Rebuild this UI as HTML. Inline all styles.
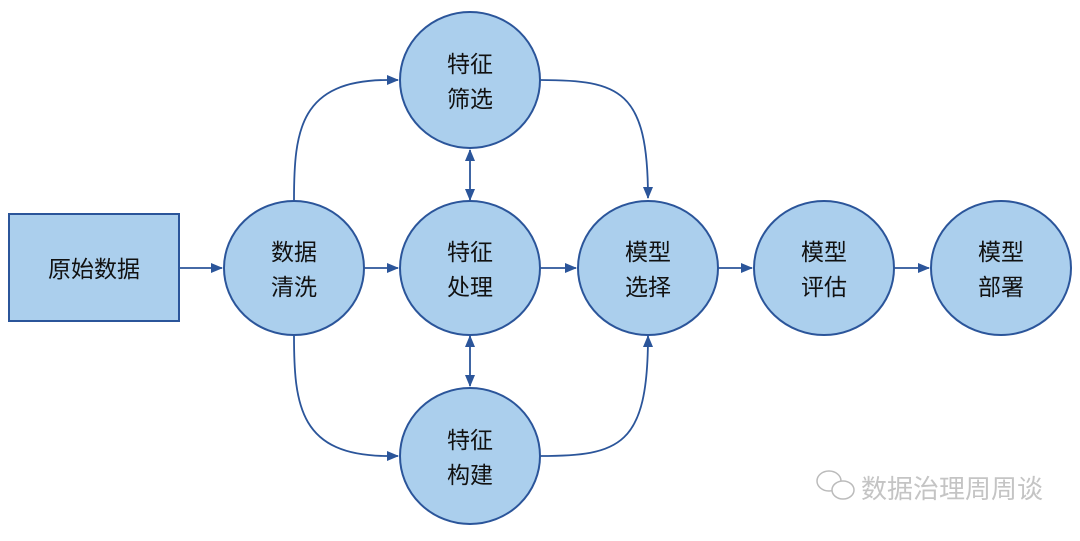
<!DOCTYPE html>
<html><head><meta charset="utf-8"><style>
body{margin:0;background:#fff}
text{font-family:"Liberation Sans","Noto Sans CJK SC",sans-serif;font-size:23px;fill:#111;text-anchor:middle}
</style></head><body>
<svg width="1080" height="536" viewBox="0 0 1080 536" xmlns="http://www.w3.org/2000/svg">
<defs><marker id="a" markerWidth="12" markerHeight="12" refX="11" refY="6" orient="auto" markerUnits="userSpaceOnUse"><path d="M0,1 L12,6 L0,11z" fill="#2b559a"/></marker>
<marker id="b" markerWidth="12" markerHeight="12" refX="11" refY="6" orient="auto-start-reverse" markerUnits="userSpaceOnUse"><path d="M0,1 L12,6 L0,11z" fill="#2b559a"/></marker></defs>
<g stroke="#2b559a" stroke-width="1.8" fill="none">
<path d="M180,268 H222" marker-end="url(#a)"/>
<path d="M364,268 H398" marker-end="url(#a)"/>
<path d="M540,268 H576" marker-end="url(#a)"/>
<path d="M718,268 H752" marker-end="url(#a)"/>
<path d="M894,268 H929" marker-end="url(#a)"/>
<path d="M294,200 C294,130 300,80 388,80 H398" marker-end="url(#a)"/>
<path d="M294,336 C294,406 300,456 388,456 H398" marker-end="url(#a)"/>
<path d="M540,80 C620,80 648,90 648,198" marker-end="url(#a)"/>
<path d="M540,456 C620,456 648,446 648,336" marker-end="url(#a)"/>
<path d="M470,150 V200" marker-start="url(#b)" marker-end="url(#b)"/>
<path d="M470,336 V386" marker-start="url(#b)" marker-end="url(#b)"/>
</g>
<g fill="#abcfed" stroke="#2b559a" stroke-width="2">
<rect x="9" y="214" width="170" height="107"/>
<ellipse cx="294" cy="268" rx="70" ry="67"/>
<ellipse cx="470" cy="80" rx="70" ry="68"/>
<ellipse cx="470" cy="268" rx="70" ry="67"/>
<ellipse cx="470" cy="456" rx="70" ry="68"/>
<ellipse cx="648" cy="268" rx="70" ry="67"/>
<ellipse cx="824" cy="268" rx="70" ry="67"/>
<ellipse cx="1001" cy="268" rx="70" ry="67"/>
</g>
<text x="94" y="277">原始数据</text>
<text x="294" y="260">数据</text><text x="294" y="295">清洗</text>
<text x="470" y="72">特征</text><text x="470" y="107">筛选</text>
<text x="470" y="260">特征</text><text x="470" y="295">处理</text>
<text x="470" y="448">特征</text><text x="470" y="483">构建</text>
<text x="648" y="260">模型</text><text x="648" y="295">选择</text>
<text x="824" y="260">模型</text><text x="824" y="295">评估</text>
<text x="1001" y="260">模型</text><text x="1001" y="295">部署</text>
<g fill="none" stroke="#bbb" stroke-width="1.5"><ellipse cx="829" cy="481" rx="12" ry="10"/><ellipse cx="843" cy="490" rx="11" ry="9" fill="#fff"/></g>
<text x="952" y="498" style="font-size:26px;fill:#c4c4c4">数据治理周周谈</text>
</svg>
</body></html>
